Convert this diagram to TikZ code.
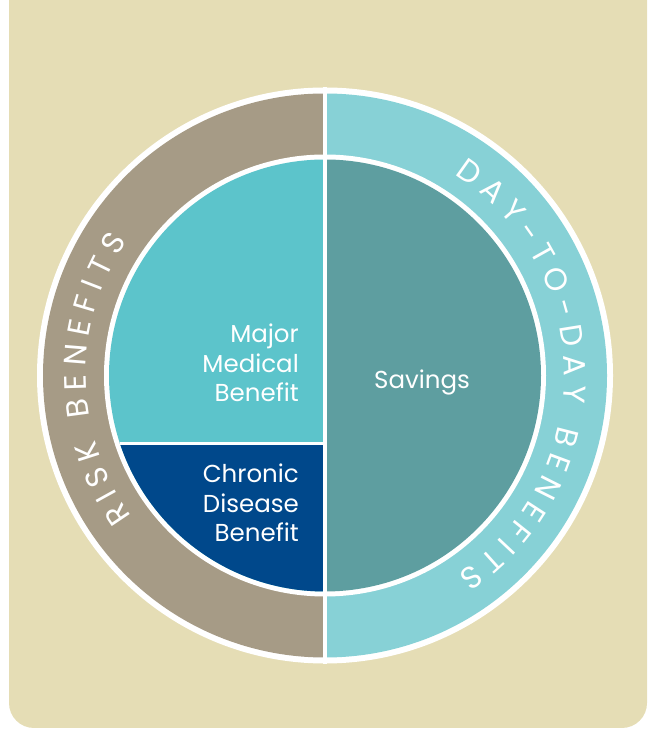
\documentclass[tikz,border=0pt]{standalone}
\usepackage{fontspec}
\setmainfont{Poppins}
\usetikzlibrary{calc}

\definecolor{sand}{HTML}{E5DDB5}
\definecolor{taupe}{HTML}{A69B86}
\definecolor{paleteal}{HTML}{87D1D6}
\definecolor{brightteal}{HTML}{5CC4CB}
\definecolor{savingsteal}{HTML}{5E9EA0}
\definecolor{chronicblue}{HTML}{00488B}

\newcommand\ringfont{\fontsize{31}{31}\selectfont}
\newlength\letterw

\tikzset{
  blocktext/.style={text=white, inner sep=0pt, align=right,
    font=\fontsize{24.5}{29.5}\selectfont},
  ringletter/.style={text=white, inner sep=0pt, anchor=base, font=\ringfont}
}

% width of one letter, measured outside the picture's font lock
\newcommand\measureletter[1]{%
  \pgfinterruptpicture\settowidth\letterw{\ringfont #1}\global\letterw=\letterw\endpgfinterruptpicture}

% #1 name, #2 centre angle, #3 letters, #4 tracking; radius 239
\newcommand\ringlabel[4]{%
  \gdef\ringlen{0}%
  \foreach \ch in {#3} {%
    \measureletter{\ch}%
    \pgfmathsetmacro\tmp{\ringlen+\letterw+#4}%
    \xdef\ringlen{\tmp}%
  }%
  \pgfmathsetmacro\ringstart{#2+deg((\ringlen-#4)/2/239)}%
  \gdef\ringpos{0}%
  \foreach \ch [count=\i] in {#3} {%
    \measureletter{\ch}%
    \pgfmathsetmacro\ang{\ringstart-deg((\ringpos+\letterw/2)/239)}%
    \node[ringletter, rotate=\ang-90] (#1-\i) at ($(c)+(\ang:239)$) {\ch};
    \pgfmathsetmacro\tmp{\ringpos+\letterw+#4}%
    \xdef\ringpos{\tmp}%
  }%
}

\begin{document}
\begin{tikzpicture}[x=1pt, y=1pt]
  \useasboundingbox (0,0) rectangle (653,730);
  \clip (0,0) rectangle (653,730);
  \fill[sand, rounded corners=25] (9,2) rectangle (647,780);

  \coordinate (c) at (325,354.5);
  % outer ring
  \fill[white] (c) circle[radius=288];
  \fill[taupe] (c) ++(90:282) arc[start angle=90, end angle=270, radius=282] -- cycle;
  \fill[paleteal] (c) ++(-90:282) arc[start angle=-90, end angle=90, radius=282] -- cycle;
  \fill[white] (c) circle[radius=221];
  % inner circle
  \fill[brightteal] (c) ++(90:216) arc[start angle=90, end angle=270, radius=216] -- cycle;
  \begin{scope}
    \clip (c) circle[radius=216];
    \fill[chronicblue] (100,0) rectangle (325,286.5);
  \end{scope}
  \fill[savingsteal] (c) ++(-90:216) arc[start angle=-90, end angle=90, radius=216] -- cycle;
  % dividers
  \coordinate (top) at (325,66);
  \coordinate (bottom) at (325,643);
  \coordinate (cut) at (120,286.5);
  \coordinate (cutend) at (325,286.5);
  \draw[white, line width=4] (top) -- (bottom);
  \draw[white, line width=3] (cut) -- (cutend);

  % ring labels
  \ringlabel{risk}{181}{R,I,S,K,~,B,E,N,E,F,I,T,S}{7.6}
  \ringlabel{daily}{0.5}{D,A,Y,-,T,O,-,D,A,Y,~,B,E,N,E,F,I,T,S}{7.6}

  % block labels
  \node[blocktext, anchor=east] (major) at (299,367) {Major\\Medical\\Benefit};
  \node[blocktext, anchor=east] (chronic) at (299,227) {Chronic\\Disease\\Benefit};
  \node[blocktext, anchor=base west] (savings) at (374,341) {Savings};
\end{tikzpicture}
\end{document}
